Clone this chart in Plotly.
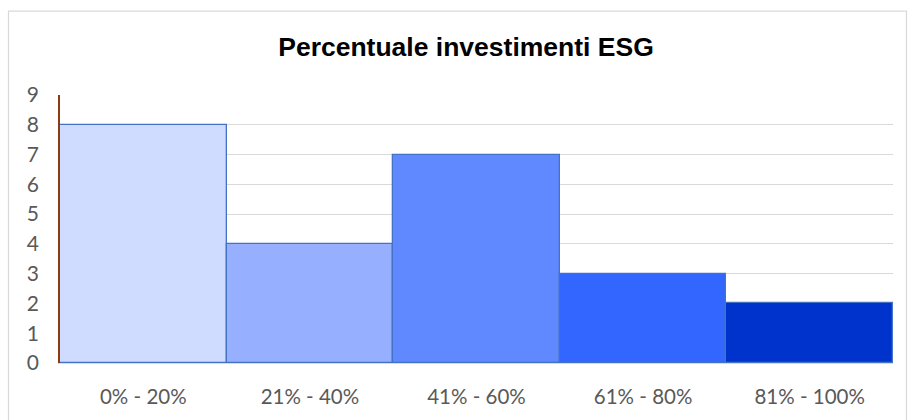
import plotly.graph_objects as go

categories = ["0% - 20%", "21% - 40%", "41% - 60%", "61% - 80%", "81% - 100%"]
values = [8, 4, 7, 3, 2]
bar_colors = ["#CFDBFF", "#97AFFF", "#6088FF", "#3366FF", "#0033CC"]
title_text = "Percentuale investimenti ESG"

W, H = 908, 420
L, R, T, B = 60, 15, 95, 55
pw, ph = W - L - R, H - T - B

fig = go.Figure(go.Bar(
    x=categories, y=values, width=1,
    marker=dict(color=bar_colors, line=dict(color="#4472C4", width=1.3)),
))

def px2paper_x(px):
    return (px - L) / pw

def px2paper_y(py):
    return (H - B - py) / ph

fig.add_shape(type="rect", xref="paper", yref="paper",
              x0=px2paper_x(8.5), x1=px2paper_x(906.5),
              y0=px2paper_y(430), y1=px2paper_y(10.5),
              line=dict(color="#D9D9D9", width=1.2), fillcolor="rgba(0,0,0,0)", layer="below")

fig.update_layout(
    width=W, height=H,
    margin=dict(l=L, r=R, t=T, b=B),
    paper_bgcolor="white", plot_bgcolor="white",
    bargap=0,
    showlegend=False,
    title=dict(text="<b>" + title_text + "</b>", x=(466) / W, xanchor="center",
               y=1 - 47 / H, yanchor="middle", yref="container",
               font=dict(family="Liberation Sans, Arial", size=26.5, color="black")),
    font=dict(family="Lato, Open Sans, sans-serif", size=20, color="#595959"),
)
fig.update_yaxes(range=[0, 9], dtick=1, showgrid=True, gridcolor="#D9D9D9", gridwidth=1,
                 showline=True, linecolor="#8B3A12", linewidth=1.5, zeroline=False,
                 ticks="", tickfont=dict(size=21, color="#595959"), ticklabelstandoff=15)
fig.update_xaxes(showline=True, linecolor="#D9D9D9", linewidth=1, showgrid=False,
                 tickfont=dict(size=20.5, color="#595959"), ticks="", ticklabelstandoff=15)

fig.write_html("out.html")
